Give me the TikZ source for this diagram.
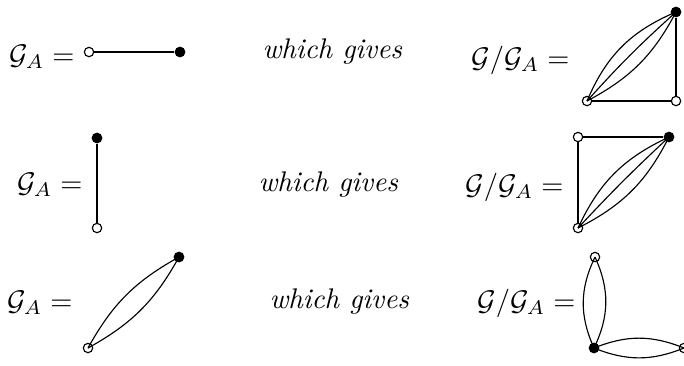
\documentclass[tikz,border=0pt]{standalone}
\begin{document}
\begin{tikzpicture}[x=0.3521pt,y=-0.3521pt,
  openv/.style={circle,draw,fill=white,inner sep=0pt,minimum size=3.3pt,line width=0.4pt},
  fullv/.style={circle,fill=black,inner sep=0pt,minimum size=3.8pt},
  lbl/.style={inner sep=0pt,anchor=base east},
  gives/.style={inner sep=0pt,anchor=base west,font=\itshape},
  edge/.style={line width=0.4pt}]
\useasboundingbox (0,0) rectangle (684,365);
% Row 1
\node[lbl] (l1) at (75,64) {$\mathcal{G}_A =$};
\node[openv] (a1) at (89,52) {};
\node[fullv] (b1) at (180,52) {};
\draw[edge] (a1) -- (b1);
\node[gives] (w1) at (262,58) {which gives};
\node[lbl] (r1) at (570,67) {$\mathcal{G}/\mathcal{G}_A =$};
\node[fullv] (c1) at (676,12) {};
\node[openv] (d1) at (587,101) {};
\node[openv] (e1) at (676,101) {};
\draw[edge] (c1) -- (e1);
\draw[edge] (d1) -- (e1);
\draw[edge] (d1.center) to[bend left=22] (c1.center);
\draw[edge] (d1.center) to[bend left=3] (c1.center);
\draw[edge] (d1.center) to[bend right=17] (c1.center);
% Row 2
\node[lbl] (l2) at (83,192) {$\mathcal{G}_A =$};
\node[fullv] (a2) at (97,138) {};
\node[openv] (b2) at (97,228) {};
\draw[edge] (a2) -- (b2);
\node[gives] (w2) at (258,191) {which gives};
\node[lbl] (r2) at (564,194) {$\mathcal{G}/\mathcal{G}_A =$};
\node[openv] (c2) at (578,137) {};
\node[fullv] (d2) at (669,137) {};
\node[openv] (e2) at (578,228) {};
\draw[edge] (c2) -- (d2);
\draw[edge] (c2) -- (e2);
\draw[edge] (e2.center) to[bend left=20] (d2.center);
\draw[edge] (e2.center) to[bend left=2] (d2.center);
\draw[edge] (e2.center) to[bend right=18] (d2.center);
% Row 3
\node[lbl] (l3) at (73,310) {$\mathcal{G}_A =$};
\node[fullv] (a3) at (179,257) {};
\node[openv] (b3) at (88,348) {};
\draw[edge] (b3.center) to[bend left=16] (a3.center);
\draw[edge] (b3.center) to[bend right=16] (a3.center);
\node[gives] (w3) at (269,308) {which gives};
\node[lbl] (r3) at (576,310) {$\mathcal{G}/\mathcal{G}_A =$};
\node[openv] (c3) at (595,257) {};
\node[fullv] (d3) at (594,348) {};
\node[openv] (e3) at (684,348) {};
\draw[edge] (d3.center) to[bend left=25] (c3.center);
\draw[edge] (d3.center) to[bend right=25] (c3.center);
\draw[edge] (d3.center) to[bend left=22] (e3.center);
\draw[edge] (d3.center) to[bend right=22] (e3.center);
\end{tikzpicture}
\end{document}
